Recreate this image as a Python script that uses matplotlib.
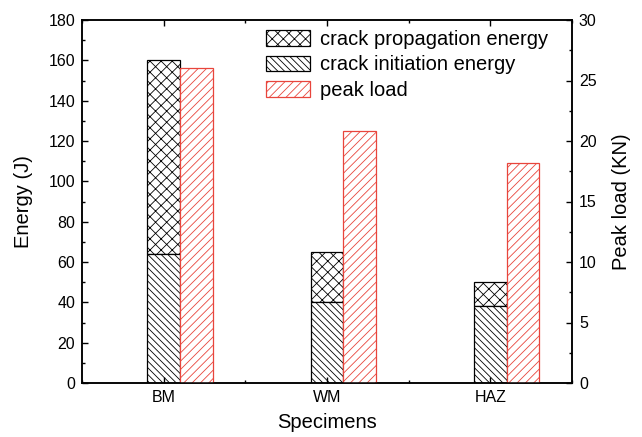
import numpy as np
import matplotlib.pyplot as plt
from matplotlib.ticker import MultipleLocator

plt.rcParams['font.family'] = ['Liberation Sans', 'DejaVu Sans']
plt.rcParams['hatch.linewidth'] = 0.6

specimens = ['BM', 'WM', 'HAZ']
initiation = [64, 40, 38]
total_energy = [160, 65, 50]
peak_load = [26, 20.8, 18.2]
propagation = [t - i for t, i in zip(total_energy, initiation)]

red = '#e8453c'
x = np.arange(1, len(specimens) + 1)
w = 0.2

fig = plt.figure(figsize=(6.42, 4.37), dpi=100)
ax = fig.add_axes([82 / 642, 1 - 383 / 437, 490 / 642, 363 / 437])
ax2 = ax.twinx()

b1 = ax.bar(x, propagation, w, bottom=initiation, color='white', edgecolor='black',
            hatch='xxx', linewidth=0.9, label='crack propagation energy')
b2 = ax.bar(x, initiation, w, color='white', edgecolor='black',
            hatch='\\\\\\\\\\', linewidth=0.9, label='crack initiation energy')
b3 = ax2.bar(x + w, peak_load, w, color='white', edgecolor=red,
             hatch='////', linewidth=0.9, label='peak load')

ax.set_xlim(0.5, 3.5)
ax.set_ylim(0, 180)
ax2.set_ylim(0, 30)
ax.set_xticks(x)
ax.set_xticklabels(specimens)
ax.xaxis.set_minor_locator(MultipleLocator(0.5))
ax.yaxis.set_major_locator(MultipleLocator(20))
ax.yaxis.set_minor_locator(MultipleLocator(10))
ax2.yaxis.set_major_locator(MultipleLocator(5))
ax2.yaxis.set_minor_locator(MultipleLocator(2.5))

for a in (ax, ax2):
    for s in a.spines.values():
        s.set_linewidth(1.1)
ax.tick_params(which='both', direction='in', top=True, labelsize=11.5, pad=5, width=1)
ax.tick_params(which='major', length=4)
ax.tick_params(which='minor', length=2.5)
ax2.tick_params(which='both', direction='in', labelsize=11.5, pad=5, width=1)
ax2.tick_params(which='major', length=4)
ax2.tick_params(which='minor', length=2.5)

ax.set_xlabel('Specimens', fontsize=14.5, labelpad=6)
ax.set_ylabel('Energy (J)', fontsize=14.5, labelpad=11)
ax2.set_ylabel('Peak load (KN)', fontsize=14.5, labelpad=11)

ax.legend([b1, b2, b3], [b1.get_label(), b2.get_label(), b3.get_label()],
          loc='upper left', bbox_to_anchor=(266 / 642, 1 - 30 / 437),
          bbox_transform=fig.transFigure, frameon=False, borderpad=0,
          borderaxespad=0, fontsize=14.5, handlelength=2.2, handleheight=0.8,
          labelspacing=0.32, handletextpad=0.5)

fig.savefig('out.png', dpi=100)
